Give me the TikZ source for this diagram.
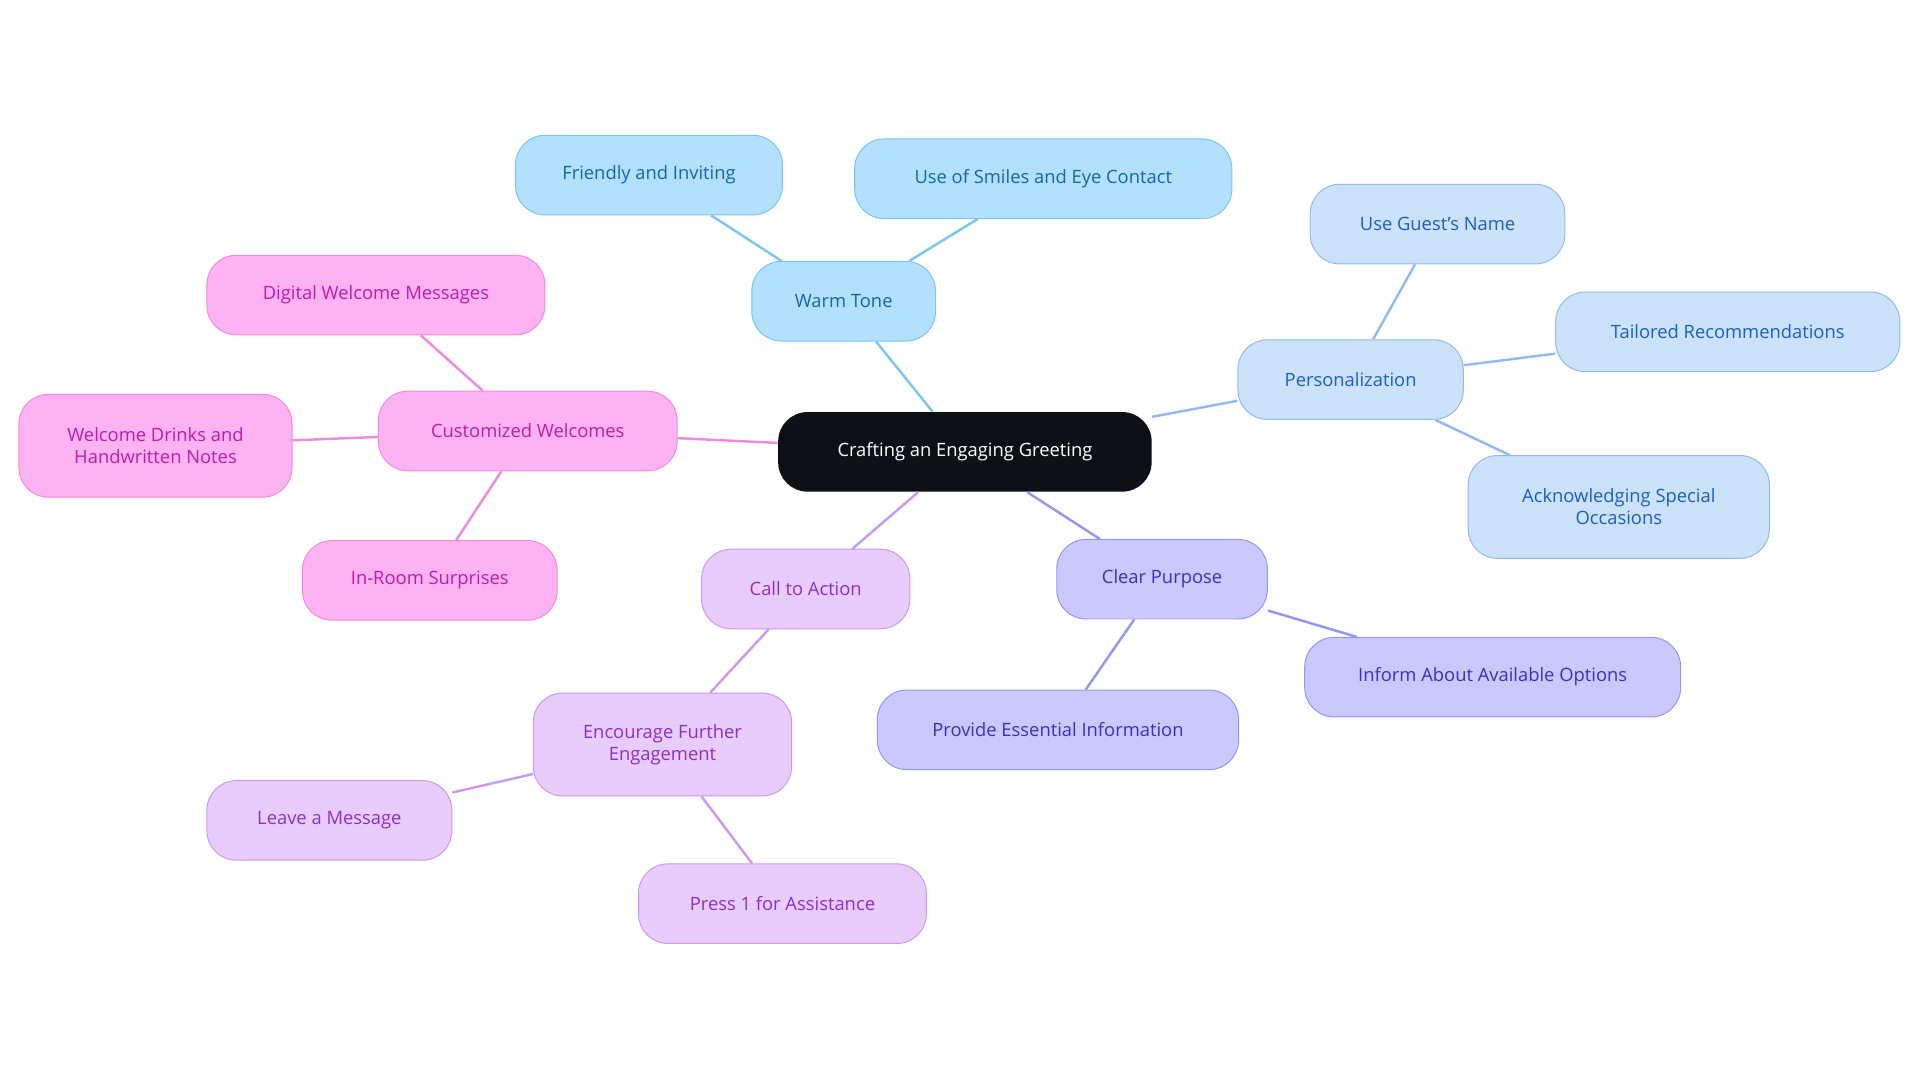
\documentclass[tikz,border=0pt]{standalone}
\usepackage{fontspec}
\setmainfont{Open Sans}
\definecolor{bF}{HTML}{B3E0FD}\definecolor{bD}{HTML}{7CC4F4}\definecolor{bT}{HTML}{1565A8}
\definecolor{pF}{HTML}{CCE2FB}\definecolor{pD}{HTML}{92BAEF}\definecolor{pT}{HTML}{1A5FC0}
\definecolor{cF}{HTML}{C9C9FD}\definecolor{cD}{HTML}{9696EF}\definecolor{cT}{HTML}{3A2FC0}
\definecolor{aF}{HTML}{E8CCFC}\definecolor{aD}{HTML}{CC99F0}\definecolor{aT}{HTML}{8C2FC8}
\definecolor{mF}{HTML}{FDB3F2}\definecolor{mD}{HTML}{F08AE0}\definecolor{mT}{HTML}{C01AA8}
\definecolor{rF}{HTML}{0D1117}
\begin{document}
\begin{tikzpicture}[x=1pt,y=-1pt,
 n/.style={rounded corners=24pt,minimum height=65pt,align=center,font=\fontsize{15}{18}\selectfont,line width=0.8pt,inner sep=0pt},
 B/.style={n,fill=bF,draw=bD,text=bT},
 P/.style={n,fill=pF,draw=pD,text=pT},
 C/.style={n,fill=cF,draw=cD,text=cT},
 A/.style={n,fill=aF,draw=aD,text=aT},
 M/.style={n,fill=mF,draw=mD,text=mT},
 e/.style={line width=2pt}]
\useasboundingbox (0,0) rectangle (1568,884);
\node[n,fill=rF,text=white,minimum width=305pt] (r) at (788,369) {Crafting an Engaging Greeting};
\node[B,minimum width=150pt] (wt) at (689,246) {Warm Tone};
\node[B,minimum width=218pt] (fi) at (530,143) {Friendly and Inviting};
\node[B,minimum width=308pt] (sm) at (852,146) {Use of Smiles and Eye Contact};
\node[P,minimum width=184pt] (pe) at (1103,310) {Personalization};
\node[P,minimum width=208pt] (gn) at (1174,183) {Use Guest's Name};
\node[P,minimum width=281pt] (tr) at (1411,271) {Tailored Recommendations};
\node[P,minimum width=246pt,minimum height=84pt] (as) at (1322,414) {Acknowledging Special\\Occasions};
\node[C,minimum width=172pt] (cp) at (949,473) {Clear Purpose};
\node[C,minimum width=307pt] (io) at (1219,553) {Inform About Available Options};
\node[C,minimum width=295pt] (pi) at (864,596) {Provide Essential Information};
\node[A,minimum width=170pt] (ca) at (658,481) {Call to Action};
\node[A,minimum width=211pt,minimum height=84pt] (ef) at (541,608) {Encourage Further\\Engagement};
\node[A,minimum width=200pt] (lm) at (269,670) {Leave a Message};
\node[A,minimum width=235pt] (p1) at (639,738) {Press 1 for Assistance};
\node[M,minimum width=244pt] (cw) at (431,352) {Customized Welcomes};
\node[M,minimum width=276pt] (dw) at (307,241) {Digital Welcome Messages};
\node[M,minimum width=223pt,minimum height=84pt] (wd) at (127,364) {Welcome Drinks and\\Handwritten Notes};
\node[M,minimum width=208pt] (ir) at (351,474) {In-Room Surprises};
\begin{scope}[on background layer/.try]
\end{scope}
\draw[e,bD] (r) -- (wt); \draw[e,bD] (wt) -- (fi); \draw[e,bD] (wt) -- (sm);
\draw[e,pD] (r) -- (pe); \draw[e,pD] (pe) -- (gn); \draw[e,pD] (pe) -- (tr); \draw[e,pD] (pe) -- (as);
\draw[e,cD] (r) -- (cp); \draw[e,cD] (cp) -- (io); \draw[e,cD] (cp) -- (pi);
\draw[e,aD] (r) -- (ca); \draw[e,aD] (ca) -- (ef); \draw[e,aD] (ef) -- (lm); \draw[e,aD] (ef) -- (p1);
\draw[e,mD] (r) -- (cw); \draw[e,mD] (cw) -- (dw); \draw[e,mD] (cw) -- (wd); \draw[e,mD] (cw) -- (ir);
\end{tikzpicture}
\end{document}
